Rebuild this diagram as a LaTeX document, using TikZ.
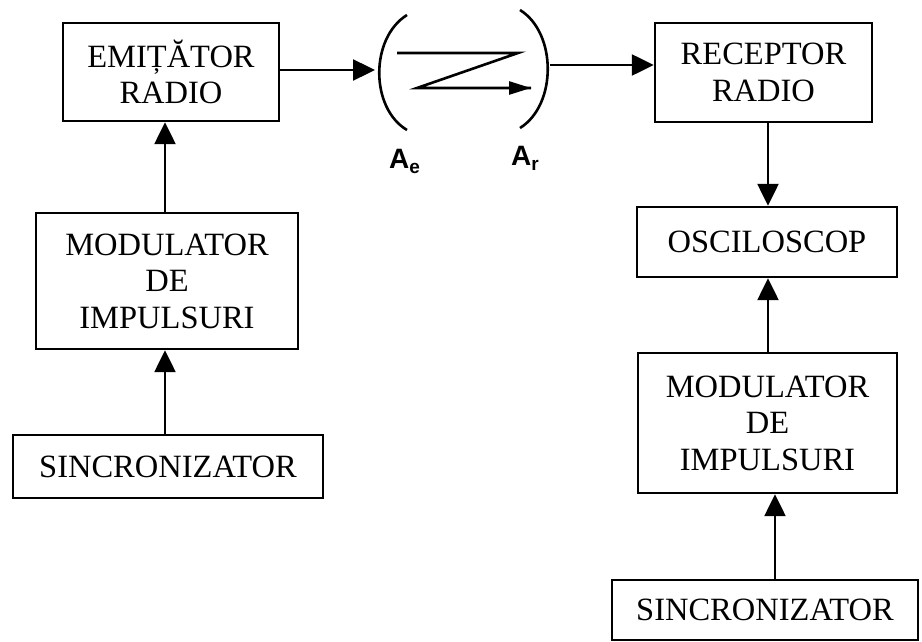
\documentclass[tikz,border=0pt]{standalone}
\usepackage{fontspec}
\setmainfont{Liberation Serif}
\newfontfamily\lblfont{Liberation Sans}
\usetikzlibrary{arrows.meta}
\begin{document}
\begin{tikzpicture}[x=1pt,y=-1pt,
  blk/.style={draw,line width=2.4pt,align=center,inner sep=0pt,
    font=\fontsize{32.5}{36.5}\selectfont},
  link/.style={line width=2.4pt,-{Triangle[length=22pt,width=21pt]}},
  wave/.style={line width=2.6pt},
  ant/.style={anchor=base west,inner sep=0pt,font=\lblfont\bfseries\fontsize{28}{28}\selectfont}]
\useasboundingbox (0,0) rectangle (922,642);

% transmitting chain
\node[blk,minimum width=216pt,minimum height=98pt] (emit) at (171,72) {EMIȚĂTOR\\RADIO};
\node[blk,minimum width=262pt,minimum height=136pt] (modL) at (167,281) {MODULATOR\\DE\\IMPULSURI};
\node[blk,minimum width=310pt,minimum height=63pt] (sinL) at (168,466.5) {SINCRONIZATOR};

% receiving chain
\node[blk,minimum width=217pt,minimum height=99pt] (rec) at (763.5,72.5) {RECEPTOR\\RADIO};
\node[blk,minimum width=260pt,minimum height=70pt] (osc) at (767,242) {OSCILOSCOP};
\node[blk,minimum width=259pt,minimum height=140pt] (modR) at (767.5,423) {MODULATOR\\DE\\IMPULSURI};
\node[blk,minimum width=306pt,minimum height=60pt] (sinR) at (765,610) {SINCRONIZATOR};

% column lines for the vertical connectors
\coordinate (colL) at (165,0);
\coordinate (colR1) at (768,0);
\coordinate (colR2) at (775,0);

% antennas and the propagation path between them
\coordinate (antE) at (375,70);
\coordinate (antR) at (550,65);
\draw[wave] (407,15) .. controls (370,38) and (370,108) .. (407,130);
\draw[wave] (520,10) .. controls (557,33) and (557,105) .. (520,128);
\coordinate (z1) at (397,53);
\coordinate (z2) at (518,53);
\coordinate (z3) at (417,88);
\coordinate (z4) at (531,88);
\draw[wave,line join=miter] (z1) -- (z2) -- (z3) -- (z4);
\draw[wave,-{Triangle[length=22pt,width=13pt]}] (z3) -- (z4);
\node[ant] (ae) at (389,168) {A\raisebox{-5pt}{\fontsize{19}{19}\selectfont e}};
\node[ant] (ar) at (511,165) {A\raisebox{-5pt}{\fontsize{19}{19}\selectfont r}};

% connectors
\draw[link] (emit.east |- antE) -- (antE);
\draw[link] (antR) -- (rec.west |- antR);
\draw[link] (modL.north -| colL) -- (emit.south -| colL);
\draw[link] (sinL.north -| colL) -- (modL.south -| colL);
\draw[link] (rec.south -| colR1) -- (osc.north -| colR1);
\draw[link] (modR.north -| colR1) -- (osc.south -| colR1);
\draw[link] (sinR.north -| colR2) -- (modR.south -| colR2);
\end{tikzpicture}
\end{document}
